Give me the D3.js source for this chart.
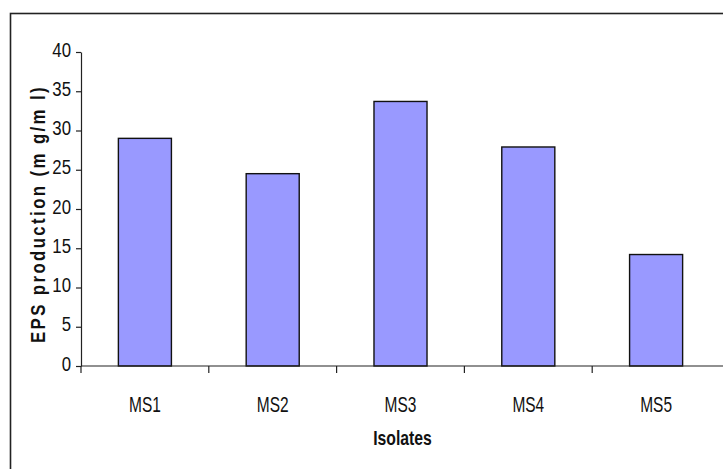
<!DOCTYPE html>
<html>
<head>
<meta charset="utf-8">
<script src="https://cdn.jsdelivr.net/npm/d3@7"></script>
<style>
  html, body { margin: 0; padding: 0; background: #fff; }
  svg { display: block; }
  text { font-family: "Liberation Sans", Arial, sans-serif; fill: #111; }
</style>
</head>
<body>
<svg id="chart" width="723" height="469"></svg>
<script>
// Exopolysaccharide yield per isolate
const isolates = ["MS1", "MS2", "MS3", "MS4", "MS5"];
const epsValues = [29.0, 24.5, 33.7, 27.9, 14.2];
const yTicks = [0, 5, 10, 15, 20, 25, 30, 35, 40];
const xTitle = "Isolates";
const yTitle = "EPS production (m g/m l)";

const W = 723, H = 469;
const plot = { left: 81, right: 720, top: 52, bottom: 366 };
const ySqueeze = 0.82; // narrow lettering on value labels
const xSqueeze = 0.72; // narrow lettering on category labels

const svg = d3.select("#chart");

// outer frame (runs past the right and bottom edges)
svg.append("rect")
  .attr("x", 10.5).attr("y", 13.5)
  .attr("width", W + 20).attr("height", H + 20)
  .attr("fill", "none").attr("stroke", "#222").attr("stroke-width", 1.6);

const x = d3.scaleBand().domain(isolates).range([plot.left, plot.right]).padding(0);
const y = d3.scaleLinear().domain([0, 40]).range([plot.bottom, plot.top]);

// bars
const barW = x.bandwidth() * 0.415;
svg.append("g").selectAll("rect")
  .data(isolates.map((c, i) => ({ c, v: epsValues[i] })))
  .join("rect")
  .attr("x", d => x(d.c) + (x.bandwidth() - barW) / 2)
  .attr("y", d => y(d.v))
  .attr("width", barW)
  .attr("height", d => y(0) - y(d.v))
  .attr("fill", "#9999ff")
  .attr("stroke", "#111")
  .attr("stroke-width", 1.4);

// y axis
const yAxis = svg.append("g")
  .attr("transform", `translate(${plot.left},0)`)
  .call(d3.axisLeft(y).tickValues(yTicks).tickSize(5).tickPadding(5).tickSizeOuter(0));
yAxis.select(".domain").attr("stroke", "#222").attr("stroke-width", 1.2);
yAxis.selectAll(".tick line").attr("stroke", "#222").attr("stroke-width", 1.2);
yAxis.selectAll(".tick text")
  .attr("font-size", 20.5)
  .attr("font-family", "'Liberation Sans', Arial, sans-serif")
  .attr("fill", "#111")
  .attr("x", -10 / ySqueeze)
  .attr("dy", "0.2em")
  .attr("transform", `scale(${ySqueeze},1)`);

// x axis: line along zero, ticks on category boundaries, labels centred
const xAxis = svg.append("g")
  .attr("transform", `translate(0,${y(0)})`)
  .call(d3.axisBottom(x).tickSize(0).tickPadding(31));
xAxis.select(".domain").remove();
xAxis.append("line")
  .attr("x1", plot.left).attr("x2", W)
  .attr("stroke", "#222").attr("stroke-width", 1.2);
xAxis.selectAll(".boundary")
  .data(isolates)
  .join("line")
  .attr("class", "boundary")
  .attr("x1", d => x(d)).attr("x2", d => x(d))
  .attr("y1", 0).attr("y2", 7)
  .attr("stroke", "#222").attr("stroke-width", 1.2);
xAxis.selectAll(".tick text")
  .attr("font-size", 21.5)
  .attr("font-family", "'Liberation Sans', Arial, sans-serif")
  .attr("fill", "#111")
  .attr("transform", `scale(${xSqueeze},1)`);

// axis titles
svg.append("text")
  .attr("transform", `translate(${(plot.left + plot.right) / 2 + 2},445) scale(0.75,1)`)
  .attr("text-anchor", "middle")
  .attr("font-size", 21)
  .attr("font-weight", "bold")
  .text(xTitle);

svg.append("text")
  .attr("transform", `translate(45,214) rotate(-90) scale(0.8,1)`)
  .attr("text-anchor", "middle")
  .attr("font-size", 21)
  .attr("font-weight", "bold")
  .attr("letter-spacing", 3)
  .text(yTitle);
</script>
</body>
</html>
